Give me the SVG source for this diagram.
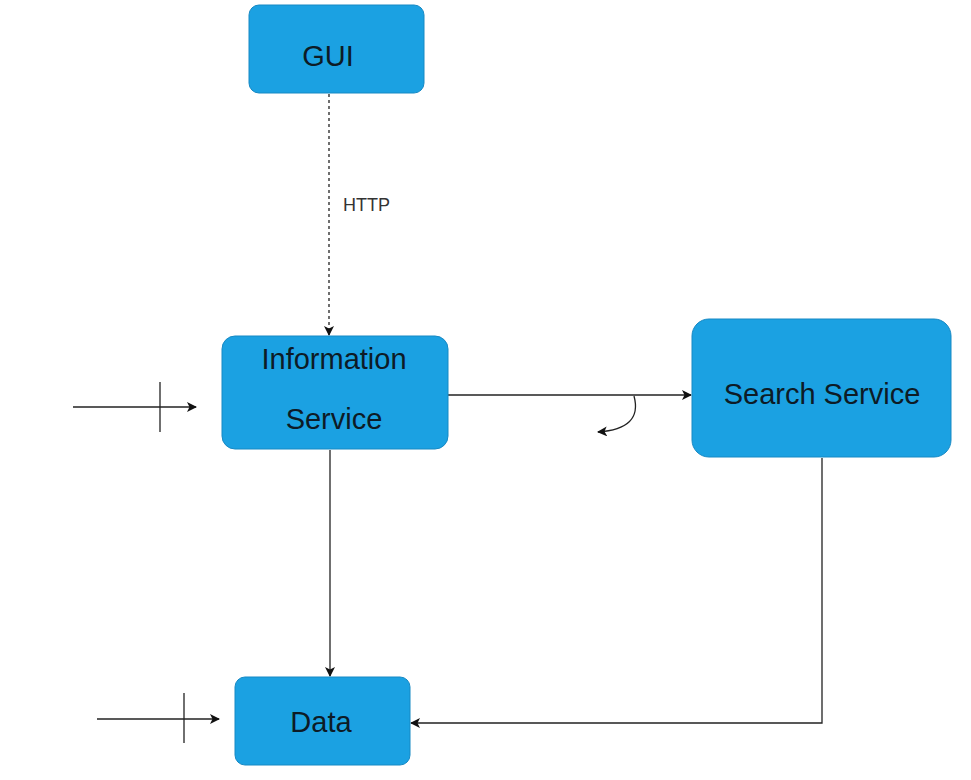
<svg xmlns="http://www.w3.org/2000/svg" width="971" height="780" viewBox="0 0 971 780">
<defs>
<style>
.node{fill:#1ba1e2;stroke:#1789c4;stroke-width:1}
.lbl{font-family:"Liberation Sans",Arial,sans-serif;font-size:29px;fill:#0d1b26;text-anchor:middle}
.edge{fill:none;stroke:#222;stroke-width:1.3}
.http{font-family:"Liberation Sans",Arial,sans-serif;font-size:18px;fill:#333}
</style>
<marker id="arr" viewBox="0 0 10 10" refX="9" refY="5" markerWidth="10" markerHeight="10" markerUnits="userSpaceOnUse" orient="auto">
<path d="M0,0 L10,5 L0,10 L2.5,5 Z" fill="#111"/>
</marker>
</defs>
<rect width="971" height="780" fill="#fff"/>
<g id="connectors">
<path class="edge" d="M329,94 L329,335" stroke-dasharray="3,3" marker-end="url(#arr)"/>
<text class="http" x="343" y="211">HTTP</text>
<path class="edge" d="M448,395 L691,395" marker-end="url(#arr)"/>
<path class="edge" d="M634,396 C640,418 628,430 598,432" marker-end="url(#arr)"/>
<path class="edge" d="M73,407 L196,407" marker-end="url(#arr)"/>
<path class="edge" d="M160,382 L160,432"/>
<path class="edge" d="M330,450 L330,676" marker-end="url(#arr)"/>
<path class="edge" d="M97,719 L219,719" marker-end="url(#arr)"/>
<path class="edge" d="M184,693 L184,743"/>
<path class="edge" d="M822,458 L822,723 L411,723" marker-end="url(#arr)"/>
</g>
<g id="gui">
<rect class="node" x="249" y="5" width="175" height="88" rx="10"/>
<text class="lbl" x="328" y="66">GUI</text>
</g>
<g id="info">
<rect class="node" x="222" y="336" width="226" height="113" rx="13"/>
<text class="lbl" x="334" y="369">Information</text>
<text class="lbl" x="334" y="429">Service</text>
</g>
<g id="search">
<rect class="node" x="692" y="319" width="259" height="138" rx="17"/>
<text class="lbl" x="822" y="404">Search Service</text>
</g>
<g id="data">
<rect class="node" x="235" y="677" width="175" height="88" rx="10"/>
<text class="lbl" x="321" y="732">Data</text>
</g>
</svg>
